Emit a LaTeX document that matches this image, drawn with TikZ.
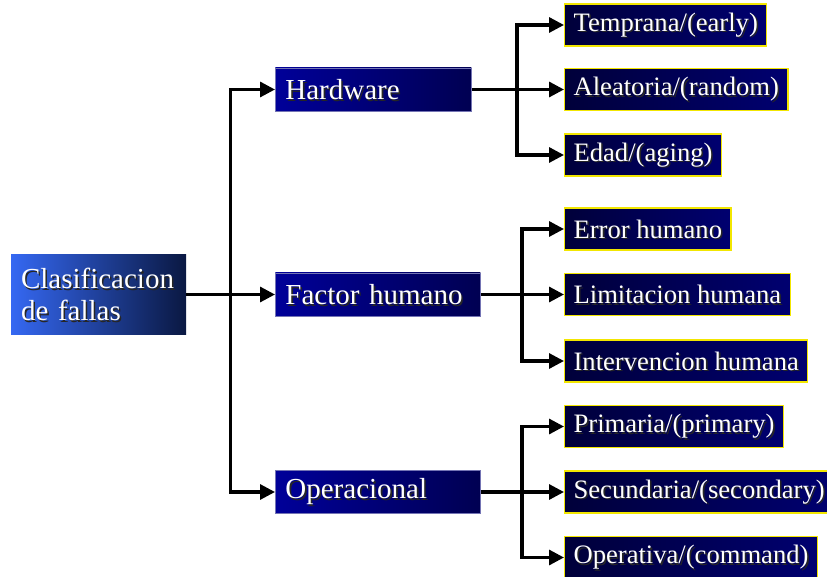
\documentclass[tikz,border=0pt]{standalone}
\usepackage{fontspec}
\setmainfont{Liberation Serif}
\usetikzlibrary{arrows.meta}
\usetikzlibrary{positioning}
\definecolor{rootl}{HTML}{3568F2}
\definecolor{rootr}{HTML}{0A1842}
\definecolor{midl}{HTML}{000099}
\definecolor{midr}{HTML}{000052}
\definecolor{leafl}{HTML}{00003A}
\definecolor{leafr}{HTML}{000070}
\definecolor{midedge}{HTML}{7474B4}
\definecolor{leafedge}{HTML}{F2E600}
\newcommand{\shd}[1]{\makebox[0pt][l]{\kern1.6pt\smash{\raisebox{-1.6pt}{\color{black!85}#1}}}#1}
\tikzset{
  rootbox/.style = {left color=rootl, right color=rootr, text=white, align=left,
    minimum width=175, minimum height=79, inner xsep=10, text width=155,
    font=\fontsize{29}{32}\selectfont},
  midbox/.style = {left color=midl, right color=midr, draw=midedge, line width=0.8,
    text=white, anchor=west, minimum height=43, inner xsep=10, align=left,
    font=\fontsize{29}{32}\selectfont},
  leafbox/.style = {left color=leafl, right color=leafr, draw=leafedge, line width=1.2,
    text=white, anchor=west, minimum height=42, inner xsep=9,
    font=\fontsize{26.6}{30}\selectfont},
  arr/.style = {line width=3.2, -{Triangle[length=15,width=15]}}
}
\begin{document}
\begin{tikzpicture}[x=1pt, y=-1pt]
    \useasboundingbox (0, 0) rectangle (827, 577);

    \node [rootbox] (root) at (98.5, 294.5) {\shd{Clasificacion}\\\shd{de fallas}};

    \node [midbox, text width=176] (hw) at (275, 89.5) {\shd{Hardware}};
    \node [midbox, text width=185] (fh) at (275, 294.5) {\shd{Factor humano}};
    \node [midbox, text width=185] (op) at (275, 492) {\shd{Operacional}};

    \node [leafbox] (hw1) at (564, 25) {\shd{Temprana/(early)}};
    \node [leafbox] (hw2) at (564, 89.5) {\shd{Aleatoria/(random)}};
    \node [leafbox] (hw3) at (564, 155) {\shd{Edad/(aging)}};
    \node [leafbox] (fh1) at (564, 229) {\shd{Error humano}};
    \node [leafbox] (fh2) at (564, 294.5) {\shd{Limitacion humana}};
    \node [leafbox] (fh3) at (564, 361) {\shd{Intervencion humana}};
    \node [leafbox] (op1) at (564, 426.5) {\shd{Primaria/(primary)}};
    \node [leafbox] (op2) at (564, 492) {\shd{Secundaria/(secondary)}};
    \node [leafbox] (op3) at (564, 557.5) {\shd{Operativa/(command)}};

    \draw [arr] (root.east) -- (fh.west);
    \draw [arr] ([xshift=44]root.east) |- (hw.west);
    \draw [arr] ([xshift=44]root.east) |- (op.west);

    \draw [arr] (hw.east) -- (hw2.west);
    \draw [arr] ([xshift=-47]hw2.west) |- (hw1.west);
    \draw [arr] ([xshift=-47]hw2.west) |- (hw3.west);

    \draw [arr] (fh.east) -- (fh2.west);
    \draw [arr] ([xshift=-42]fh2.west) |- (fh1.west);
    \draw [arr] ([xshift=-42]fh2.west) |- (fh3.west);

    \draw [arr] (op.east) -- (op2.west);
    \draw [arr] ([xshift=-42]op2.west) |- (op1.west);
    \draw [arr] ([xshift=-42]op2.west) |- (op3.west);
  \end{tikzpicture}
\end{document}
